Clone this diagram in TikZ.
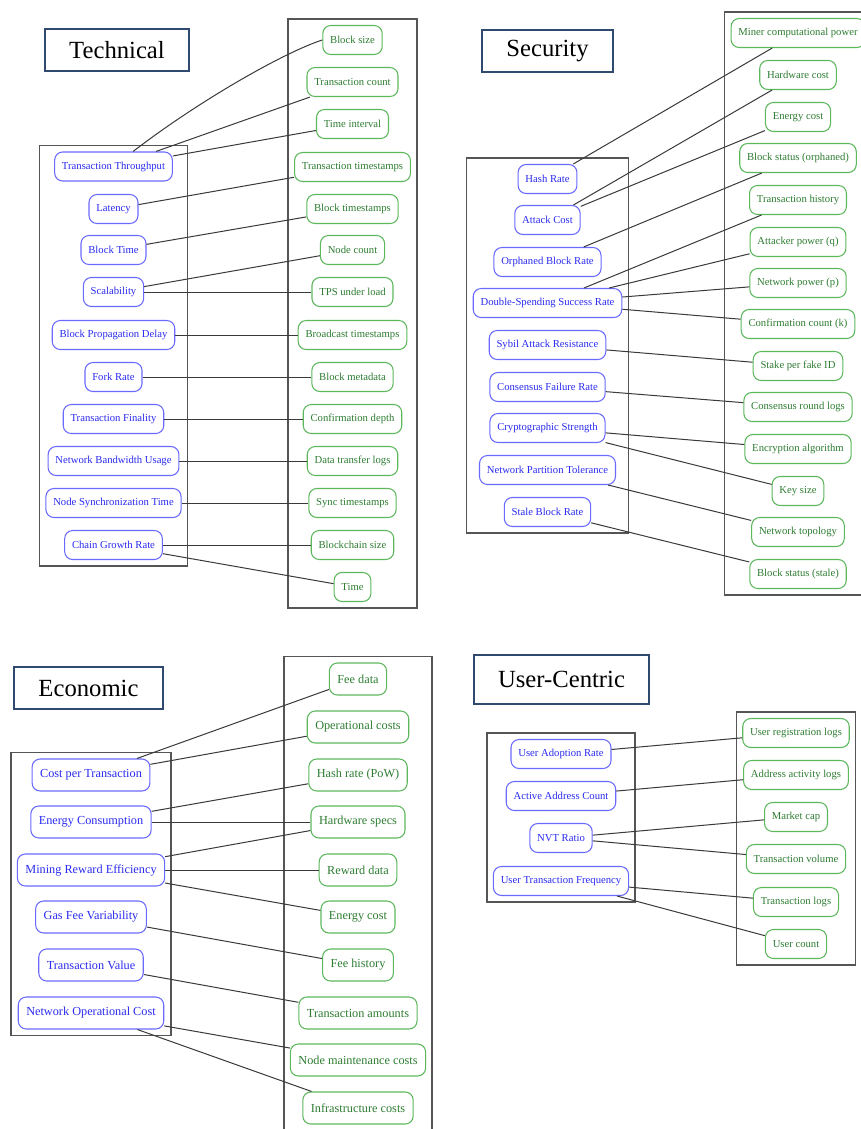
\documentclass[tikz,border=0pt]{standalone}
\usepackage{fontspec}
\setmainfont{Liberation Serif}
\usepackage{tikz}
\usetikzlibrary{fit,calc}
\definecolor{bmBlue}{HTML}{2B2BF0}
\definecolor{bmBlueL}{HTML}{6A6AFF}
\definecolor{bmGreen}{HTML}{2E7D32}
\definecolor{bmGreenL}{HTML}{5DB85D}
\definecolor{bmNavy}{HTML}{2F4A6E}
\definecolor{bmGray}{HTML}{555555}
\definecolor{bmEdge}{HTML}{3A3A3A}
\tikzset{
  bm-box/.style={
    rounded corners=6pt, line width=0.8pt, fill=white,
    inner xsep=5.5pt, inner ysep=2pt, minimum height=21.75pt,
    font=\fontsize{8pt}{9.6pt}\selectfont
  },
  bm-metric/.style={bm-box, draw=bmBlueL, text=bmBlue},
  bm-source/.style={bm-box, draw=bmGreenL, text=bmGreen},
  bm-big/.style={font=\fontsize{9.2pt}{11pt}\selectfont,
    minimum height=24pt, inner xsep=6pt},
  bm-title/.style={draw=bmNavy, line width=1.5pt, inner xsep=18pt,
    minimum height=31.5pt, font=\fontsize{18.5pt}{22pt}\selectfont},
  bm-group/.style={draw=bmGray, line width=1pt, inner sep=4.5pt},
  bm-link/.style={draw=bmEdge, line width=0.75pt}
}
\begin{document}
\begin{tikzpicture}[x=0.75pt, y=-0.75pt]
\useasboundingbox[fill=white] (0,0) rectangle (861,1129);
\clip (0,0) rectangle (861,1129);

% Technical
\node[bm-title] (ttech) at (117,50) {Technical};
\node[bm-metric] (tt) at (113.5,166.5) {Transaction Throughput};
\node[bm-metric] (lat) at (113.5,209) {Latency};
\node[bm-metric] (btime) at (113.5,250) {Block Time};
\node[bm-metric] (scal) at (113.5,292) {Scalability};
\node[bm-metric] (bpd) at (113.5,335) {Block Propagation Delay};
\node[bm-metric] (fork) at (113.5,377) {Fork Rate};
\node[bm-metric] (tfin) at (113.5,419) {Transaction Finality};
\node[bm-metric] (nbu) at (113.5,461) {Network Bandwidth Usage};
\node[bm-metric] (nst) at (113.5,503) {Node Synchronization Time};
\node[bm-metric] (cgr) at (113.5,545) {Chain Growth Rate};
\node[bm-group, fit=(tt)(lat)(btime)(scal)(bpd)(fork)(tfin)(nbu)(nst)(cgr)] {};

\node[bm-source] (bsize) at (352.5,40) {Block size};
\node[bm-source] (tcount) at (352.5,82) {Transaction count};
\node[bm-source] (tint) at (352.5,124) {Time interval};
\node[bm-source] (tts) at (352.5,167) {Transaction timestamps};
\node[bm-source] (bts) at (352.5,209) {Block timestamps};
\node[bm-source] (ncount) at (352.5,250) {Node count};
\node[bm-source] (tps) at (352.5,292) {TPS under load};
\node[bm-source] (bcast) at (352.5,335) {Broadcast timestamps};
\node[bm-source] (bmeta) at (352.5,377) {Block metadata};
\node[bm-source] (cdepth) at (352.5,419) {Confirmation depth};
\node[bm-source] (dtl) at (352.5,461) {Data transfer logs};
\node[bm-source] (sts) at (352.5,503) {Sync timestamps};
\node[bm-source] (bcsize) at (352.5,545) {Blockchain size};
\node[bm-source] (time) at (352.5,587) {Time};
\node[bm-group, fit=(bsize)(tts)(bcast)(time)] {};

\draw[bm-link] (tt) .. controls (200,100) and (285,52) .. (bsize.west);
\draw[bm-link] (tt) -- (tcount);
\draw[bm-link] (tt) -- (tint);
\draw[bm-link] (lat) -- (tts);
\draw[bm-link] (btime) -- (bts);
\draw[bm-link] (scal) -- (ncount);
\draw[bm-link] (scal) -- (tps);
\draw[bm-link] (bpd) -- (bcast);
\draw[bm-link] (fork) -- (bmeta);
\draw[bm-link] (tfin) -- (cdepth);
\draw[bm-link] (nbu) -- (dtl);
\draw[bm-link] (nst) -- (sts);
\draw[bm-link] (cgr) -- (bcsize);
\draw[bm-link] (cgr) -- (time);

% Security
\node[bm-title] (tsec) at (547.5,51) {Security};
\node[bm-metric] (hash) at (547.5,179) {Hash Rate};
\node[bm-metric] (acost) at (547.5,220) {Attack Cost};
\node[bm-metric] (obr) at (547.5,262) {Orphaned Block Rate};
\node[bm-metric] (dssr) at (547.5,303) {Double-Spending Success Rate};
\node[bm-metric] (sybil) at (547.5,345) {Sybil Attack Resistance};
\node[bm-metric] (cfr) at (547.5,387) {Consensus Failure Rate};
\node[bm-metric] (crypto) at (547.5,428) {Cryptographic Strength};
\node[bm-metric] (npt) at (547.5,470) {Network Partition Tolerance};
\node[bm-metric] (stale) at (547.5,512) {Stale Block Rate};
\node[bm-group, fit=(hash)(dssr)(npt)(stale)] {};

\node[bm-source] (miner) at (798,33) {Miner computational power};
\node[bm-source] (hcost) at (798,75) {Hardware cost};
\node[bm-source] (ecost) at (798,117) {Energy cost};
\node[bm-source] (bso) at (798,158) {Block status (orphaned)};
\node[bm-source] (thist) at (798,200) {Transaction history};
\node[bm-source] (apq) at (798,242) {Attacker power (q)};
\node[bm-source] (npp) at (798,283) {Network power (p)};
\node[bm-source] (cck) at (798,324) {Confirmation count (k)};
\node[bm-source] (stake) at (798,366) {Stake per fake ID};
\node[bm-source] (crl) at (798,407) {Consensus round logs};
\node[bm-source] (enc) at (798,449) {Encryption algorithm};
\node[bm-source] (ksize) at (798,491) {Key size};
\node[bm-source] (ntop) at (798,532) {Network topology};
\node[bm-source] (bss) at (798,574) {Block status (stale)};
\node[bm-group, fit=(miner)(bso)(cck)(bss)] {};

\draw[bm-link] (hash) -- (miner);
\draw[bm-link] (acost) -- (hcost);
\draw[bm-link] (acost) -- (ecost);
\draw[bm-link] (obr) -- (bso);
\draw[bm-link] (dssr) -- (thist);
\draw[bm-link] (dssr) -- (apq);
\draw[bm-link] (dssr) -- (npp);
\draw[bm-link] (dssr) -- (cck);
\draw[bm-link] (sybil) -- (stake);
\draw[bm-link] (cfr) -- (crl);
\draw[bm-link] (crypto) -- (enc);
\draw[bm-link] (crypto) -- (ksize);
\draw[bm-link] (npt) -- (ntop);
\draw[bm-link] (stale) -- (bss);

% Economic
\node[bm-title] (teco) at (88.5,688) {Economic};
\node[bm-metric, bm-big] (cpt) at (91,775) {Cost per Transaction};
\node[bm-metric, bm-big] (econ) at (91,822) {Energy Consumption};
\node[bm-metric, bm-big] (mre) at (91,870) {Mining Reward Efficiency};
\node[bm-metric, bm-big] (gfv) at (91,917) {Gas Fee Variability};
\node[bm-metric, bm-big] (tval) at (91,965) {Transaction Value};
\node[bm-metric, bm-big] (noc) at (91,1013) {Network Operational Cost};
\node[bm-group, fit=(cpt)(mre)(noc)] {};

\node[bm-source, bm-big] (fee) at (358,679) {Fee data};
\node[bm-source, bm-big] (opc) at (358,727) {Operational costs};
\node[bm-source, bm-big] (hrate) at (358,775) {Hash rate (PoW)};
\node[bm-source, bm-big] (hws) at (358,822) {Hardware specs};
\node[bm-source, bm-big] (rwd) at (358,870) {Reward data};
\node[bm-source, bm-big] (ecost2) at (358,917) {Energy cost};
\node[bm-source, bm-big] (feeh) at (358,965) {Fee history};
\node[bm-source, bm-big] (tamt) at (358,1013) {Transaction amounts};
\node[bm-source, bm-big] (nmc) at (358,1060) {Node maintenance costs};
\node[bm-source, bm-big] (infra) at (358,1108) {Infrastructure costs};
\node[bm-group, fit=(fee)(nmc)(infra)] {};

\draw[bm-link] (cpt) -- (fee);
\draw[bm-link] (cpt) -- (opc);
\draw[bm-link] (econ) -- (hrate);
\draw[bm-link] (econ) -- (hws);
\draw[bm-link] (mre) -- (hws);
\draw[bm-link] (mre) -- (rwd);
\draw[bm-link] (mre) -- (ecost2);
\draw[bm-link] (gfv) -- (feeh);
\draw[bm-link] (tval) -- (tamt);
\draw[bm-link] (noc) -- (nmc);
\draw[bm-link] (noc) -- (infra);

% User-Centric
\node[bm-title, minimum height=36.75pt] (tuser) at (561.5,679.5) {User-Centric};
\node[bm-metric] (uar) at (561,754) {User Adoption Rate};
\node[bm-metric] (aac) at (561,796) {Active Address Count};
\node[bm-metric] (nvt) at (561,838) {NVT Ratio};
\node[bm-metric] (utf) at (561,881) {User Transaction Frequency};
\node[bm-group, fit=(uar)(aac)(nvt)(utf)] {};

\node[bm-source] (url) at (796,733) {User registration logs};
\node[bm-source] (aal) at (796,775) {Address activity logs};
\node[bm-source] (mcap) at (796,817) {Market cap};
\node[bm-source] (tvol) at (796,859) {Transaction volume};
\node[bm-source] (tlog) at (796,902) {Transaction logs};
\node[bm-source] (ucnt) at (796,944) {User count};
\node[bm-group, fit=(url)(aal)(tvol)(ucnt)] {};

\draw[bm-link] (uar) -- (url);
\draw[bm-link] (aac) -- (aal);
\draw[bm-link] (nvt) -- (mcap);
\draw[bm-link] (nvt) -- (tvol);
\draw[bm-link] (utf) -- (tlog);
\draw[bm-link] (utf) -- (ucnt);
\end{tikzpicture}
\end{document}
